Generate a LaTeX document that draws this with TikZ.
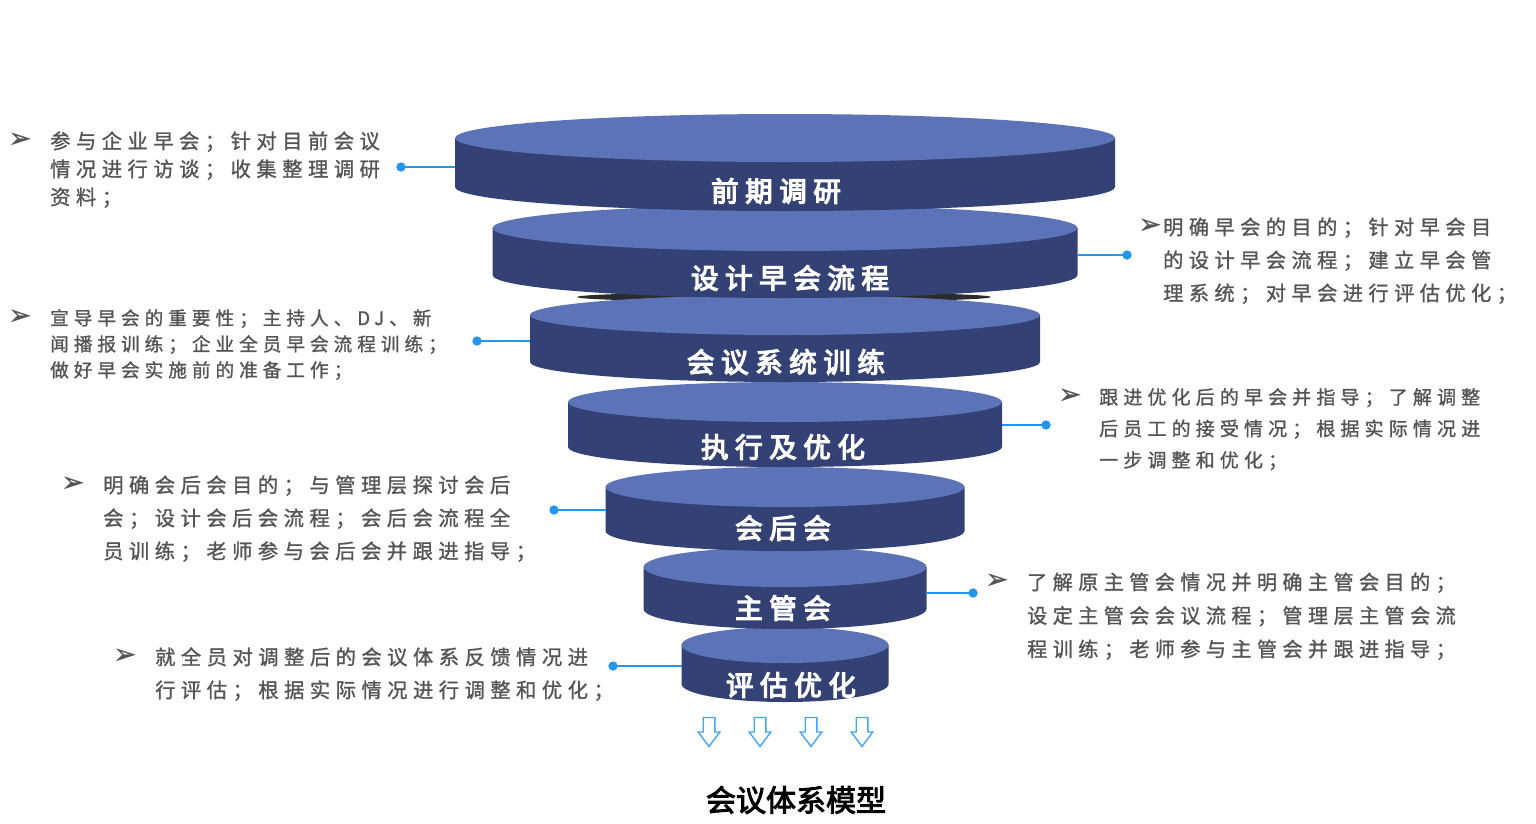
\documentclass[tikz,border=0pt]{standalone}
\usepackage{fontspec}
\setmainfont{Liberation Serif}
\newfontfamily\txtfont{Noto Sans CJK SC}[LetterSpace=27,FakeBold=1.2]
\newfontfamily\lblfont{Noto Sans CJK SC}[LetterSpace=24,FakeBold=4.5]
\newfontfamily\ttlfont{Noto Sans CJK SC}[FakeBold=3]
\newfontfamily\symfont{DejaVu Sans}[FakeBold=1]
\definecolor{disctop}{HTML}{5C74B7}
\definecolor{discside}{HTML}{334174}
\definecolor{linkblue}{HTML}{2196F3}
\definecolor{txtgray}{HTML}{555555}
\definecolor{arrowblue}{HTML}{42A5F5}
\definecolor{shadowc}{HTML}{2B2B2B}
\newcommand\mydisc[8]{%
  \fill[discside] ({785-#2},-#3) -- ({785-#2},-#4)
     arc[start angle=180,end angle=360,x radius=#2,y radius=#5]
     -- ({785+#2},-#3) -- cycle;
  \fill[disctop] (785,-#3) ellipse[x radius=#2,y radius=#5];
  \node[disclabel] (#1) at (#6,-#7) {#8};
}
\newcommand\hollowarrow[1]{%
  \draw[arrowblue,line width=1.4pt,line join=miter]
    ({#1-5.8},-717.5) -- ({#1+5.8},-717.5) -- ({#1+5.8},-732) -- ({#1+10.8},-732)
    -- (#1,-746.5) -- ({#1-10.8},-732) -- ({#1-5.8},-732) -- cycle;
}
\begin{document}
\begin{tikzpicture}[x=1pt,y=1pt,
  disclabel/.style={inner sep=0pt,text=white,font=\lblfont\fontsize{27.5}{27.5}\selectfont},
  txt/.style={anchor=base west,inner sep=0pt,text=txtgray},
  bul/.style={inner sep=0pt,text=txtgray,font=\symfont\fontsize{27}{27}\selectfont},
  dot/.style={circle,fill=linkblue,inner sep=0pt,minimum size=9pt},
  link/.style={draw=linkblue,line width=2.6pt},
  ttl/.style={inner sep=0pt,text=black,font=\ttlfont\fontsize{30}{30}\selectfont}]
\useasboundingbox (0,0) rectangle (1536,-823);
\fill[white] (0,0) rectangle (1536,-823);

% discs, bottom to top
\mydisc{d7}{103.5}{645}{684}{18}{791}{685}{评估优化}
\mydisc{d6}{141.5}{567}{609}{20}{783}{608}{主管会}
\mydisc{d5}{179.5}{487}{531}{20}{783}{528}{会后会}
\mydisc{d4}{217}{402}{447}{20}{783}{447}{执行及优化}
\fill[shadowc] (784,-297) ellipse[x radius=207,y radius=5];
\mydisc{d3}{255}{315}{362}{20}{786}{362}{会议系统训练}
\mydisc{d2}{292.5}{228}{275}{23}{790}{278}{设计早会流程}
\mydisc{d1}{330}{138}{187}{24}{776}{191}{前期调研}

% attachment points on the discs
\coordinate (e1) at (455,-167);
\coordinate (e2) at (1078,-255);
\coordinate (e3) at (530,-341);
\coordinate (e4) at (1002,-425);
\coordinate (e5) at (606,-510);
\coordinate (e6) at (927,-593);
\coordinate (e7) at (682,-666);

% dots
\node[dot] (p1) at (401,-167) {};
\node[dot] (p2) at (1127,-255) {};
\node[dot] (p3) at (477,-341) {};
\node[dot] (p4) at (1046,-425) {};
\node[dot] (p5) at (554,-510) {};
\node[dot] (p6) at (973,-593) {};
\node[dot] (p7) at (613,-666) {};

\draw[link] (p1.center) -- (e1);
\draw[link] (p2.center) -- (e2);
\draw[link] (p3.center) -- (e3);
\draw[link] (p4.center) -- (e4);
\draw[link] (p5.center) -- (e5);
\draw[link] (p6.center) -- (e6);
\draw[link] (p7.center) -- (e7);
\node[dot] at (p1) {};
\node[dot] at (p2) {};
\node[dot] at (p3) {};
\node[dot] at (p4) {};
\node[dot] at (p5) {};
\node[dot] at (p6) {};
\node[dot] at (p7) {};

% bullets
\node[bul] (b1) at (20,-140) {➢};
\node[bul] (b2) at (20,-317) {➢};
\node[bul] (b3) at (1150,-226) {➢};
\node[bul] (b4) at (1070,-396) {➢};
\node[bul] (b5) at (73,-484) {➢};
\node[bul] (b6) at (997,-581) {➢};
\node[bul] (b7) at (125,-656) {➢};

% texts
\node[txt,font=\txtfont\fontsize{20.3}{28}\selectfont] (t1) at (50,-148.6)
  {\begin{tabular}[t]{@{}l@{}}参与企业早会；针对目前会议\\情况进行访谈；收集整理调研\\资料；\end{tabular}};
\node[txt,font=\txtfont\fontsize{18.6}{26}\selectfont] (t2) at (50,-325)
  {\begin{tabular}[t]{@{}l@{}}宣导早会的重要性；主持人、DJ、新\\闻播报训练；企业全员早会流程训练；\\做好早会实施前的准备工作；\end{tabular}};
\node[txt,font=\txtfont\fontsize{20.2}{33}\selectfont] (t3) at (1163,-234.6)
  {\begin{tabular}[t]{@{}l@{}}明确早会的目的；针对早会目\\的设计早会流程；建立早会管\\理系统；对早会进行评估优化；\end{tabular}};
\node[txt,font=\txtfont\fontsize{19}{31.5}\selectfont] (t4) at (1099,-404.2)
  {\begin{tabular}[t]{@{}l@{}}跟进优化后的早会并指导；了解调整\\后员工的接受情况；根据实际情况进\\一步调整和优化；\end{tabular}};
\node[txt,font=\txtfont\fontsize{20.3}{33}\selectfont] (t5) at (103,-492.6)
  {\begin{tabular}[t]{@{}l@{}}明确会后会目的；与管理层探讨会后\\会；设计会后会流程；会后会流程全\\员训练；老师参与会后会并跟进指导；\end{tabular}};
\node[txt,font=\txtfont\fontsize{20.1}{33.5}\selectfont] (t6) at (1027,-589.6)
  {\begin{tabular}[t]{@{}l@{}}了解原主管会情况并明确主管会目的；\\设定主管会会议流程；管理层主管会流\\程训练；老师参与主管会并跟进指导；\end{tabular}};
\node[txt,font=\txtfont\fontsize{20.3}{33}\selectfont] (t7) at (155,-664.6)
  {\begin{tabular}[t]{@{}l@{}}就全员对调整后的会议体系反馈情况进\\行评估；根据实际情况进行调整和优化；\end{tabular}};

% hollow arrows
\hollowarrow{709}
\hollowarrow{760}
\hollowarrow{811}
\hollowarrow{862}

\node[ttl] (title) at (796,-800) {会议体系模型};
\end{tikzpicture}
\end{document}
